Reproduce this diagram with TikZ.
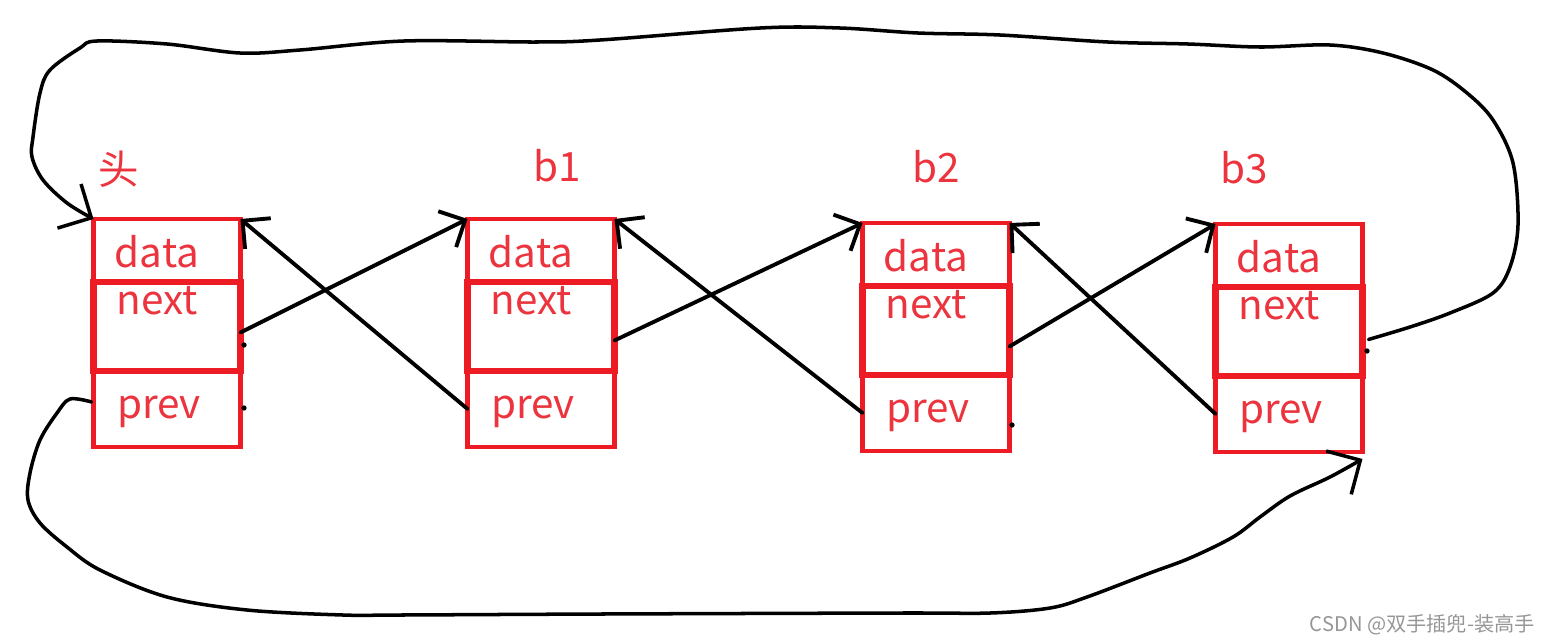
\documentclass[tikz,border=0pt]{standalone}
\usepackage{fontspec}
\setmainfont{Noto Sans CJK SC}
\definecolor{cellred}{RGB}{237, 28, 36}
\definecolor{textred}{RGB}{236, 52, 62}
\definecolor{markgray}{RGB}{150, 150, 150}
\usetikzlibrary{arrows.meta, positioning, calc}

\begin{document}
\begin{tikzpicture}[
        x=0.02cm, y=-0.02cm,
        cell/.style={rectangle, draw=cellred, line width=2.6pt, minimum width=2.94cm, outer sep=0pt, inner sep=0pt},
        nextcell/.style={cell, line width=3.8pt},
        field/.style={anchor=base, text=textred, inner sep=0pt, font=\fontsize{23}{26}\selectfont},
        title/.style={text=textred, inner sep=0pt, font=\fontsize{23}{26}\selectfont},
        link/.style={line width=2.2pt, line cap=round, -{Straight Barb[length=4mm, width=8mm]}},
        ring/.style={line width=2pt, line cap=round, line join=round, -{Straight Barb[length=5mm, width=10mm]}}
    ]
        \useasboundingbox (0,0) rectangle (1554,643);

        % The four list nodes: data / next / prev
        \foreach \n/\x/\y/\lx/\ly/\lbl in {h/167/219/119/169/头, b1/541/219/557/166/b1, b2/936/223/936/167/b2, b3/1289/224/1244/168/b3} {
            \node[cell, minimum height=1.26cm, anchor=north] (\n-data) at (\x,\y) {};
            \node[nextcell, minimum height=1.78cm, below=0pt of \n-data] (\n-next) {};
            \node[cell, minimum height=1.52cm, below=0pt of \n-next] (\n-prev) {};
            \node[field] (\n-dt) at (\x-10,\y+48) {data};
            \node[field] (\n-nt) at (\x-10,\y+95) {next};
            \node[field] (\n-pt) at (\x-8,\y+199) {prev};
            \node[title] (\n-title) at (\lx,\ly) {\lbl};
        }

        % next -> following node, prev -> preceding node
        \draw[link] ($(h-next.east)+(0,6)$) -- (b1-data.north west);
        \draw[link] (b1-prev.west) -- (h-data.north east);
        \draw[link] ($(b1-next.east)+(0,14)$) -- (b2-data.north west);
        \draw[link] (b2-prev.west) -- (b1-data.north east);
        \draw[link] ($(b2-next.east)+(0,16)$) -- (b3-data.north west);
        \draw[link] (b3-prev.west) -- (b2-data.north east);

        % Last next back to the head (over the top)
        \draw[ring] plot[smooth, tension=0.55] coordinates {($(b3-next.east)+(6,8)$) (1410,327) (1450,313) (1493,293) (1510,267) (1518,225) (1513,163) (1493,120) (1467,93) (1433,70) (1383,53) (1330,45) (1260,47) (1188,44) (1108,42) (1000,35) (918,33) (840,28) (760,28) (600,40) (536,42) (404,41) (300,50) (240,53) (167,44) (97,41) (80,48) (50,70) (40,93) (33,137) (32,157) (43,180) (67,203) (h-data.north west)};

        % Head prev back to the last node (under the bottom)
        \draw[ring] plot[smooth, tension=0.55] coordinates {($(h-prev.west)+(-2,-7)$) (70,399) (57,413) (40,440) (30,473) (28,500) (40,523) (67,547) (100,570) (167,597) (247,610) (343,615) (400,615) (600,614) (900,613) (990,613) (1050,608) (1087,597) (1150,573) (1190,558) (1233,537) (1260,517) (1290,496) (1330,477) ($(b3-prev.south east)+(0,7)$)};

        % Stray pen dots
        \foreach \px/\py in {244/345, 244/408, 1012/425, 1367/351} {
            \fill (\px,\py) circle[radius=1.5pt];
        }

        \node[text=markgray, font=\fontsize{11.5}{13}\selectfont, anchor=east] (mark) at (1541,625) {CSDN @双手插兜-装高手};
    \end{tikzpicture}
\end{document}
